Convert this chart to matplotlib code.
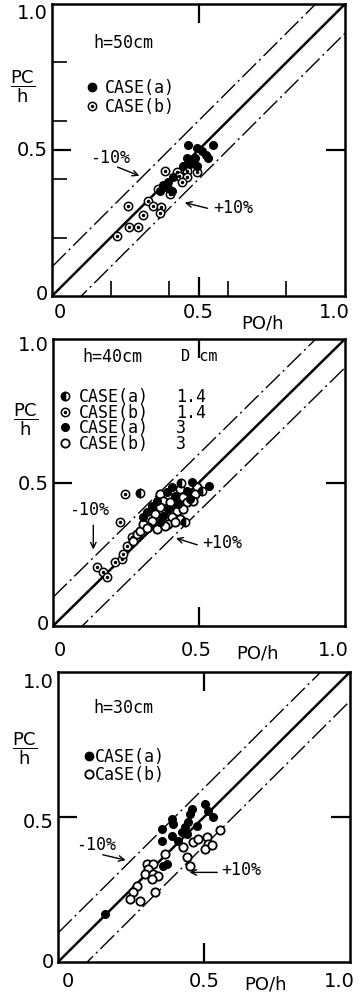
import numpy as np
import matplotlib
matplotlib.use("Agg")
import matplotlib.pyplot as plt

plt.rcParams['font.family'] = ['DejaVu Sans']
plt.rcParams['mathtext.fontset'] = 'dejavusans'

# ---- h = 50 cm ----
h50_a_x = [0.465, 0.551, 0.496, 0.511, 0.526, 0.534, 0.462, 0.477, 0.488, 0.471,
           0.448, 0.494, 0.412, 0.397, 0.380, 0.369, 0.397, 0.408]
h50_a_y = [0.517, 0.517, 0.506, 0.498, 0.483, 0.471, 0.471, 0.467, 0.471, 0.452,
           0.444, 0.446, 0.406, 0.389, 0.380, 0.361, 0.369, 0.361]
h50_b_x = [0.223, 0.264, 0.295, 0.312, 0.260, 0.329, 0.346, 0.371, 0.369, 0.363,
           0.386, 0.428, 0.460, 0.494, 0.435, 0.462, 0.443, 0.403]
h50_b_y = [0.207, 0.237, 0.237, 0.277, 0.307, 0.326, 0.307, 0.304, 0.284, 0.366,
           0.429, 0.424, 0.429, 0.426, 0.412, 0.406, 0.391, 0.350]

# ---- h = 40 cm ----
h40_a14_x = [0.298, 0.452, 0.510, 0.440]
h40_a14_y = [0.463, 0.363, 0.470, 0.500]
h40_b14_x = [0.247, 0.229, 0.150, 0.172, 0.184, 0.212, 0.235, 0.241, 0.252, 0.269]
h40_b14_y = [0.460, 0.361, 0.204, 0.187, 0.170, 0.224, 0.233, 0.251, 0.280, 0.309]
h40_a3_x = [0.535, 0.475, 0.406, 0.458, 0.389, 0.418, 0.469, 0.355, 0.429, 0.338,
            0.395, 0.321, 0.378, 0.309, 0.366]
h40_a3_y = [0.489, 0.501, 0.483, 0.472, 0.466, 0.454, 0.443, 0.437, 0.425, 0.419,
            0.408, 0.396, 0.384, 0.379, 0.361]
h40_b3_x = [0.492, 0.435, 0.486, 0.366, 0.446, 0.378, 0.401, 0.458, 0.481, 0.366,
            0.424, 0.446, 0.349, 0.406, 0.435, 0.338, 0.395, 0.418, 0.326, 0.355,
            0.384, 0.275, 0.287, 0.298, 0.307, 0.321]
h40_b3_y = [0.483, 0.477, 0.460, 0.460, 0.448, 0.437, 0.431, 0.431, 0.437, 0.413,
            0.402, 0.408, 0.390, 0.379, 0.373, 0.367, 0.355, 0.361, 0.344, 0.338,
            0.349, 0.297, 0.321, 0.332, 0.355, 0.343]

# ---- h = 30 cm ----
h30_a_x = [0.503, 0.515, 0.532, 0.389, 0.395, 0.452, 0.446, 0.475, 0.435, 0.424,
           0.441, 0.355, 0.389, 0.355, 0.412, 0.372, 0.361, 0.161, 0.458]
h30_a_y = [0.545, 0.522, 0.499, 0.493, 0.476, 0.510, 0.482, 0.470, 0.464, 0.447,
           0.441, 0.459, 0.436, 0.418, 0.418, 0.338, 0.332, 0.166, 0.528]
h30_b_x = [0.366, 0.441, 0.429, 0.463, 0.481, 0.509, 0.515, 0.503, 0.526, 0.452,
           0.304, 0.326, 0.309, 0.298, 0.326, 0.344, 0.321, 0.269, 0.258, 0.247,
           0.281, 0.332, 0.555]
h30_b_y = [0.372, 0.361, 0.395, 0.413, 0.424, 0.430, 0.407, 0.390, 0.402, 0.332,
           0.338, 0.338, 0.321, 0.303, 0.303, 0.298, 0.286, 0.263, 0.240, 0.217,
           0.211, 0.240, 0.456]

# legend of the h = 40 cm panel
h40_cases = ['CASE(a)', 'CASE(b)', 'CASE(a)', 'CASE(b)']
h40_d = ['1.4', '1.4', '3', '3']

offset = 0.1
FIG_W, FIG_H = 360, 995
mono = 'DejaVu Sans Mono'


def filled(ax, xs, ys):
    ax.plot(xs, ys, 'o', ms=5.5, color='black', ls='none', zorder=4)


def opened(ax, xs, ys):
    ax.plot(xs, ys, 'o', ms=6, mfc='white', mec='black', mew=1.3, ls='none', zorder=3)


def dotted(ax, xs, ys):
    ax.plot(xs, ys, 'o', ms=6, mfc='white', mec='black', mew=1.1, ls='none', zorder=3)
    ax.plot(xs, ys, 'o', ms=1.5, color='black', ls='none', zorder=3)


def half(ax, xs, ys):
    ax.plot(xs, ys, 'o', ms=6, fillstyle='left', mfc='black', mfcalt='white',
            mec='black', mew=1.1, ls='none', zorder=4)


def panel(left, top, right, bottom, minor, lab):
    w = right - left
    h = bottom - top
    ax = fig.add_axes([left / FIG_W, (FIG_H - bottom) / FIG_H, w / FIG_W, h / FIG_H])
    ax.set_xlim(0, 1)
    ax.set_ylim(0, 1)
    for s in ax.spines.values():
        s.set_linewidth(1.8)
    ax.set_xticks([0.5])
    ax.set_yticks([0.5])
    ax.tick_params(direction='in', length=14, width=1.6, top=True, right=True,
                   labelbottom=False, labelleft=False)
    if minor:
        ax.set_xticks([0.2, 0.4, 0.6, 0.8], minor=True)
        ax.set_yticks([0.2, 0.4, 0.6, 0.8], minor=True)
        ax.tick_params(which='minor', direction='in', length=11, width=1.2)
    else:
        ax.minorticks_off()
    xs = np.array([0.0, 1.0])
    ax.plot(xs, xs, color='black', lw=1.8)
    ax.plot(xs, xs + offset, color='black', lw=1.0, dashes=(14, 3, 1.5, 3))
    ax.plot(xs, xs - offset, color='black', lw=1.0, dashes=(14, 3, 1.5, 3))

    # tick labels
    dy = lab['xoff'] / h
    for x, t in zip(lab['xpos'], ['0', '0.5', '1.0']):
        ax.text(x, -dy, t, transform=ax.transAxes, ha='center', va='center', fontsize=14)
    for y, t in zip(lab['ypos'], ['0', '0.5', '1.0']):
        ax.text(-0.015, y, t, transform=ax.transAxes, ha='right', va='center', fontsize=14)
    ax.text(lab['po'], -lab['pooff'] / h, 'PO/h', transform=ax.transAxes,
            ha='center', va='center', fontsize=13)
    ax.text(lab['pcx'], lab['pcy'], r'$\dfrac{\mathrm{PC}}{\mathrm{h}}$',
            transform=ax.transAxes, ha='center', va='center', fontsize=13)
    return ax


fig = plt.figure(figsize=(3.6, 9.95), dpi=100)

arrow = dict(arrowstyle='->', lw=1.0, color='black', mutation_scale=10)

# panel 1
ax1 = panel(52, 5, 345, 297, True,
            dict(xoff=15, xpos=[0.027, 0.50, 0.964], ypos=[0.01, 0.50, 0.97],
                 po=0.72, pooff=27, pcx=-0.10, pcy=0.72))
ax1.text(0.14, 0.87, 'h=50cm', fontsize=12, family=mono, va='center')
ax1.plot([0.136], [0.716], 'o', ms=6, color='black', ls='none')
ax1.text(0.18, 0.716, 'CASE(a)', fontsize=12, family=mono, va='center')
dotted(ax1, [0.136], [0.652])
ax1.text(0.18, 0.652, 'CASE(b)', fontsize=12, family=mono, va='center')
filled(ax1, h50_a_x, h50_a_y)
dotted(ax1, h50_b_x, h50_b_y)
ax1.text(0.20, 0.476, '-10%', fontsize=12, family=mono, ha='center', va='center')
ax1.annotate('', xy=(0.307, 0.408), xytext=(0.215, 0.445), arrowprops=arrow)
ax1.text(0.55, 0.305, '+10%', fontsize=12, family=mono, ha='left', va='center')
ax1.annotate('', xy=(0.444, 0.322), xytext=(0.54, 0.298), arrowprops=arrow)

# panel 2
ax2 = panel(53, 340, 345, 627, False,
            dict(xoff=24, xpos=[0.024, 0.49, 0.96], ypos=[0.007, 0.495, 0.98],
                 po=0.70, pooff=26, pcx=-0.094, pcy=0.724))
ax2.text(0.10, 0.942, 'h=40cm', fontsize=12, family=mono, va='center')
ax2.text(0.44, 0.942, 'D cm', fontsize=11, family=mono, va='center')
leg_y = [0.802, 0.747, 0.692, 0.637]
half(ax2, [0.041], [leg_y[0]])
dotted(ax2, [0.041], [leg_y[1]])
filled(ax2, [0.041], [leg_y[2]])
opened(ax2, [0.041], [leg_y[3]])
ax2.text(0.09, np.mean(leg_y), '\n'.join(h40_cases), fontsize=12, family=mono,
         va='center', linespacing=0.84)
ax2.text(0.42, np.mean(leg_y), '\n'.join(h40_d), fontsize=12, family=mono,
         va='center', linespacing=0.84)
dotted(ax2, h40_b14_x, h40_b14_y)
opened(ax2, h40_b3_x, h40_b3_y)
filled(ax2, h40_a3_x, h40_a3_y)
half(ax2, h40_a14_x, h40_a14_y)
ax2.text(0.125, 0.408, '-10%', fontsize=12, family=mono, ha='center', va='center')
ax2.annotate('', xy=(0.138, 0.257), xytext=(0.138, 0.361), arrowprops=arrow)
ax2.text(0.51, 0.292, '+10%', fontsize=12, family=mono, ha='left', va='center')
ax2.annotate('', xy=(0.412, 0.309), xytext=(0.503, 0.280), arrowprops=arrow)

# panel 3
ax3 = panel(58, 673, 350, 963, False,
            dict(xoff=19, xpos=[0.034, 0.50, 0.965], ypos=[0.0, 0.486, 0.966],
                 po=0.71, pooff=22, pcx=-0.113, pcy=0.740))
ax3.text(0.12, 0.878, 'h=30cm', fontsize=12, family=mono, va='center')
ax3.plot([0.105], [0.711], 'o', ms=6, color='black', ls='none')
ax3.text(0.125, 0.711, 'CASE(a)', fontsize=12, family=mono, va='center')
opened(ax3, [0.105], [0.648])
ax3.text(0.125, 0.648, 'CaSE(b)', fontsize=12, family=mono, va='center')
opened(ax3, h30_b_x, h30_b_y)
filled(ax3, h30_a_x, h30_a_y)
ax3.text(0.13, 0.407, '-10%', fontsize=12, family=mono, ha='center', va='center')
ax3.annotate('', xy=(0.241, 0.349), xytext=(0.144, 0.372), arrowprops=arrow)
ax3.text(0.56, 0.321, '+10%', fontsize=12, family=mono, ha='left', va='center')
ax3.annotate('', xy=(0.441, 0.309), xytext=(0.555, 0.309), arrowprops=arrow)

fig.savefig('out.png', dpi=100)
